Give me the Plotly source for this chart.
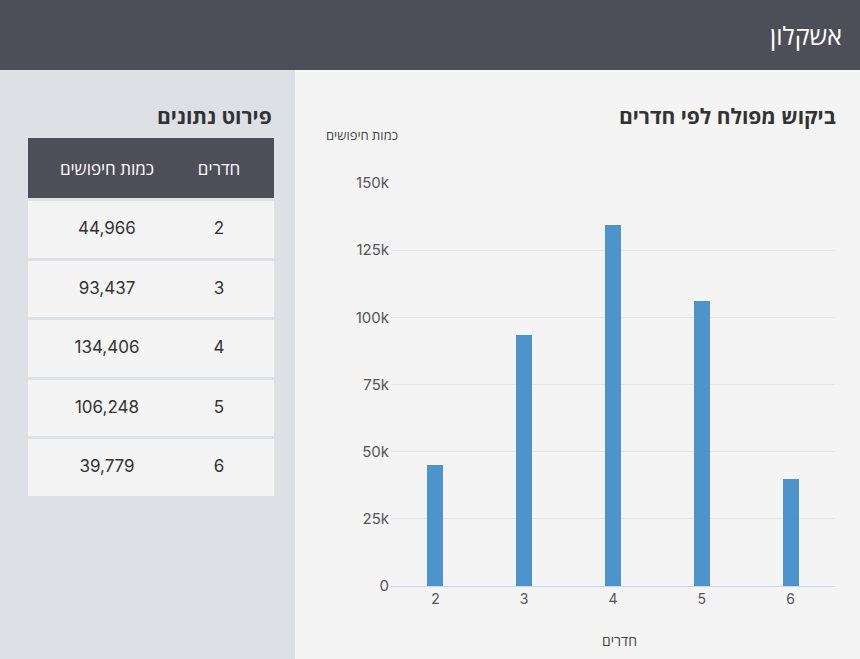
import plotly.graph_objects as go

# data
rooms = ["2", "3", "4", "5", "6"]
searches = [44966, 93437, 134406, 106248, 39779]
city = "אשקלון"
chart_title = "ביקוש מפולח לפי חדרים"
table_title = "פירוט נתונים"
col_rooms = "חדרים"
col_searches = "כמות חיפושים"

W, H = 860, 659
HEADER_BG = "#4d4e57"
SIDE_BG = "#dde0e4"
MAIN_BG = "#f4f4f4"
BAR_COLOR = "#4e94cc"
HEB_FONT = "Open Sans, DejaVu Sans, sans-serif"
NUM_FONT = "Inter, Lato, sans-serif"


def px_x(x):
    return x / W


def px_y(y):
    # pixel from top -> paper y
    return (H - y) / H


header_h = 63
row_h = 59.5
# plotly tables write the text at the top of a cell, so the text table sits a bit lower
text_shift = 17.3
text_header_h = 59.6

fig = go.Figure()

fig.add_trace(go.Bar(
    x=rooms,
    y=searches,
    marker=dict(color=BAR_COLOR, line=dict(width=0)),
    width=0.18,
    hoverinfo="x+y",
    showlegend=False,
))

# background of the table: one column so the gaps only run between rows
fig.add_trace(go.Table(
    domain=dict(x=[px_x(26.5), px_x(275.5)], y=[px_y(498), px_y(136.5)]),
    header=dict(values=[""], fill_color=HEADER_BG,
                line=dict(color=SIDE_BG, width=3), height=header_h),
    cells=dict(values=[[""] * len(rooms)], fill_color=MAIN_BG,
               line=dict(color=SIDE_BG, width=3), height=row_h),
    hoverinfo="skip",
))

# the texts of the table
fig.add_trace(go.Table(
    domain=dict(x=[px_x(28), px_x(252)], y=[px_y(498 + text_shift), px_y(136.5 + text_shift)]),
    columnwidth=[158, 66],
    header=dict(
        values=[col_searches, col_rooms],
        fill_color="rgba(0,0,0,0)",
        line=dict(width=0),
        font=dict(family=HEB_FONT, size=17, color="white"),
        align="center",
        height=text_header_h,
    ),
    cells=dict(
        values=[[f"{v:,}" for v in searches], rooms],
        fill_color="rgba(0,0,0,0)",
        line=dict(width=0),
        font=dict(family=NUM_FONT, size=17, color="#333333"),
        align="center",
        height=row_h,
    ),
))

fig.update_layout(
    width=W, height=H,
    margin=dict(l=0, r=0, t=0, b=0, autoexpand=False),
    paper_bgcolor=MAIN_BG,
    plot_bgcolor=MAIN_BG,
    bargap=0,
    xaxis=dict(
        domain=[px_x(391), px_x(835)],
        type="category",
        automargin=False,
        showgrid=False,
        showline=True, linecolor="#ccd6eb", linewidth=1,
        ticks="", zeroline=False,
        tickfont=dict(family=NUM_FONT, size=14, color="#555555"),
        fixedrange=True,
    ),
    yaxis=dict(
        domain=[px_y(586), px_y(183)],
        range=[0, 150000],
        tickvals=[0, 25000, 50000, 75000, 100000, 125000, 150000],
        tickformat="~s",
        automargin=False,
        showgrid=True, gridcolor="#e4e4e4", gridwidth=1,
        zeroline=False, showline=False,
        tickfont=dict(family=NUM_FONT, size=15, color="#555555"),
        ticklabelstandoff=1,
        fixedrange=True,
    ),
    shapes=[
        dict(type="rect", xref="paper", yref="paper", x0=0, x1=1, y0=px_y(70), y1=1,
             fillcolor=HEADER_BG, line=dict(width=0), layer="below"),
        dict(type="rect", xref="paper", yref="paper", x0=0, x1=px_x(295), y0=0, y1=px_y(70),
             fillcolor=SIDE_BG, line=dict(width=0), layer="below"),
    ],
    annotations=[
        dict(text=city, xref="paper", yref="paper", x=px_x(844), y=px_y(35),
             xanchor="right", yanchor="middle", showarrow=False,
             font=dict(family=HEB_FONT, size=25, color="white")),
        dict(text="<b>" + chart_title + "</b>", xref="paper", yref="paper", x=px_x(838), y=px_y(116),
             xanchor="right", yanchor="middle", showarrow=False,
             font=dict(family=HEB_FONT, size=21, color="#333333")),
        dict(text="<b>" + table_title + "</b>", xref="paper", yref="paper", x=px_x(274), y=px_y(116),
             xanchor="right", yanchor="middle", showarrow=False,
             font=dict(family=HEB_FONT, size=21, color="#333333")),
        dict(text=col_searches, xref="paper", yref="paper", x=px_x(362), y=px_y(135),
             xanchor="center", yanchor="middle", showarrow=False,
             font=dict(family=HEB_FONT, size=13, color="#444444")),
        dict(text=col_rooms, xref="paper", yref="paper", x=px_x(619), y=px_y(640),
             xanchor="center", yanchor="middle", showarrow=False,
             font=dict(family=HEB_FONT, size=14, color="#444444")),
    ],
)

page_fix = (
    "document.documentElement.style.margin='0';"
    "document.body.style.margin='0';"
    "document.body.style.padding='0';"
    "var gd=document.getElementById('{plot_id}');"
    "gd.style.position='fixed';gd.style.top='0px';gd.style.left='0px';"
)
fig.write_html("out.html", config={"displayModeBar": False}, post_script=page_fix)
